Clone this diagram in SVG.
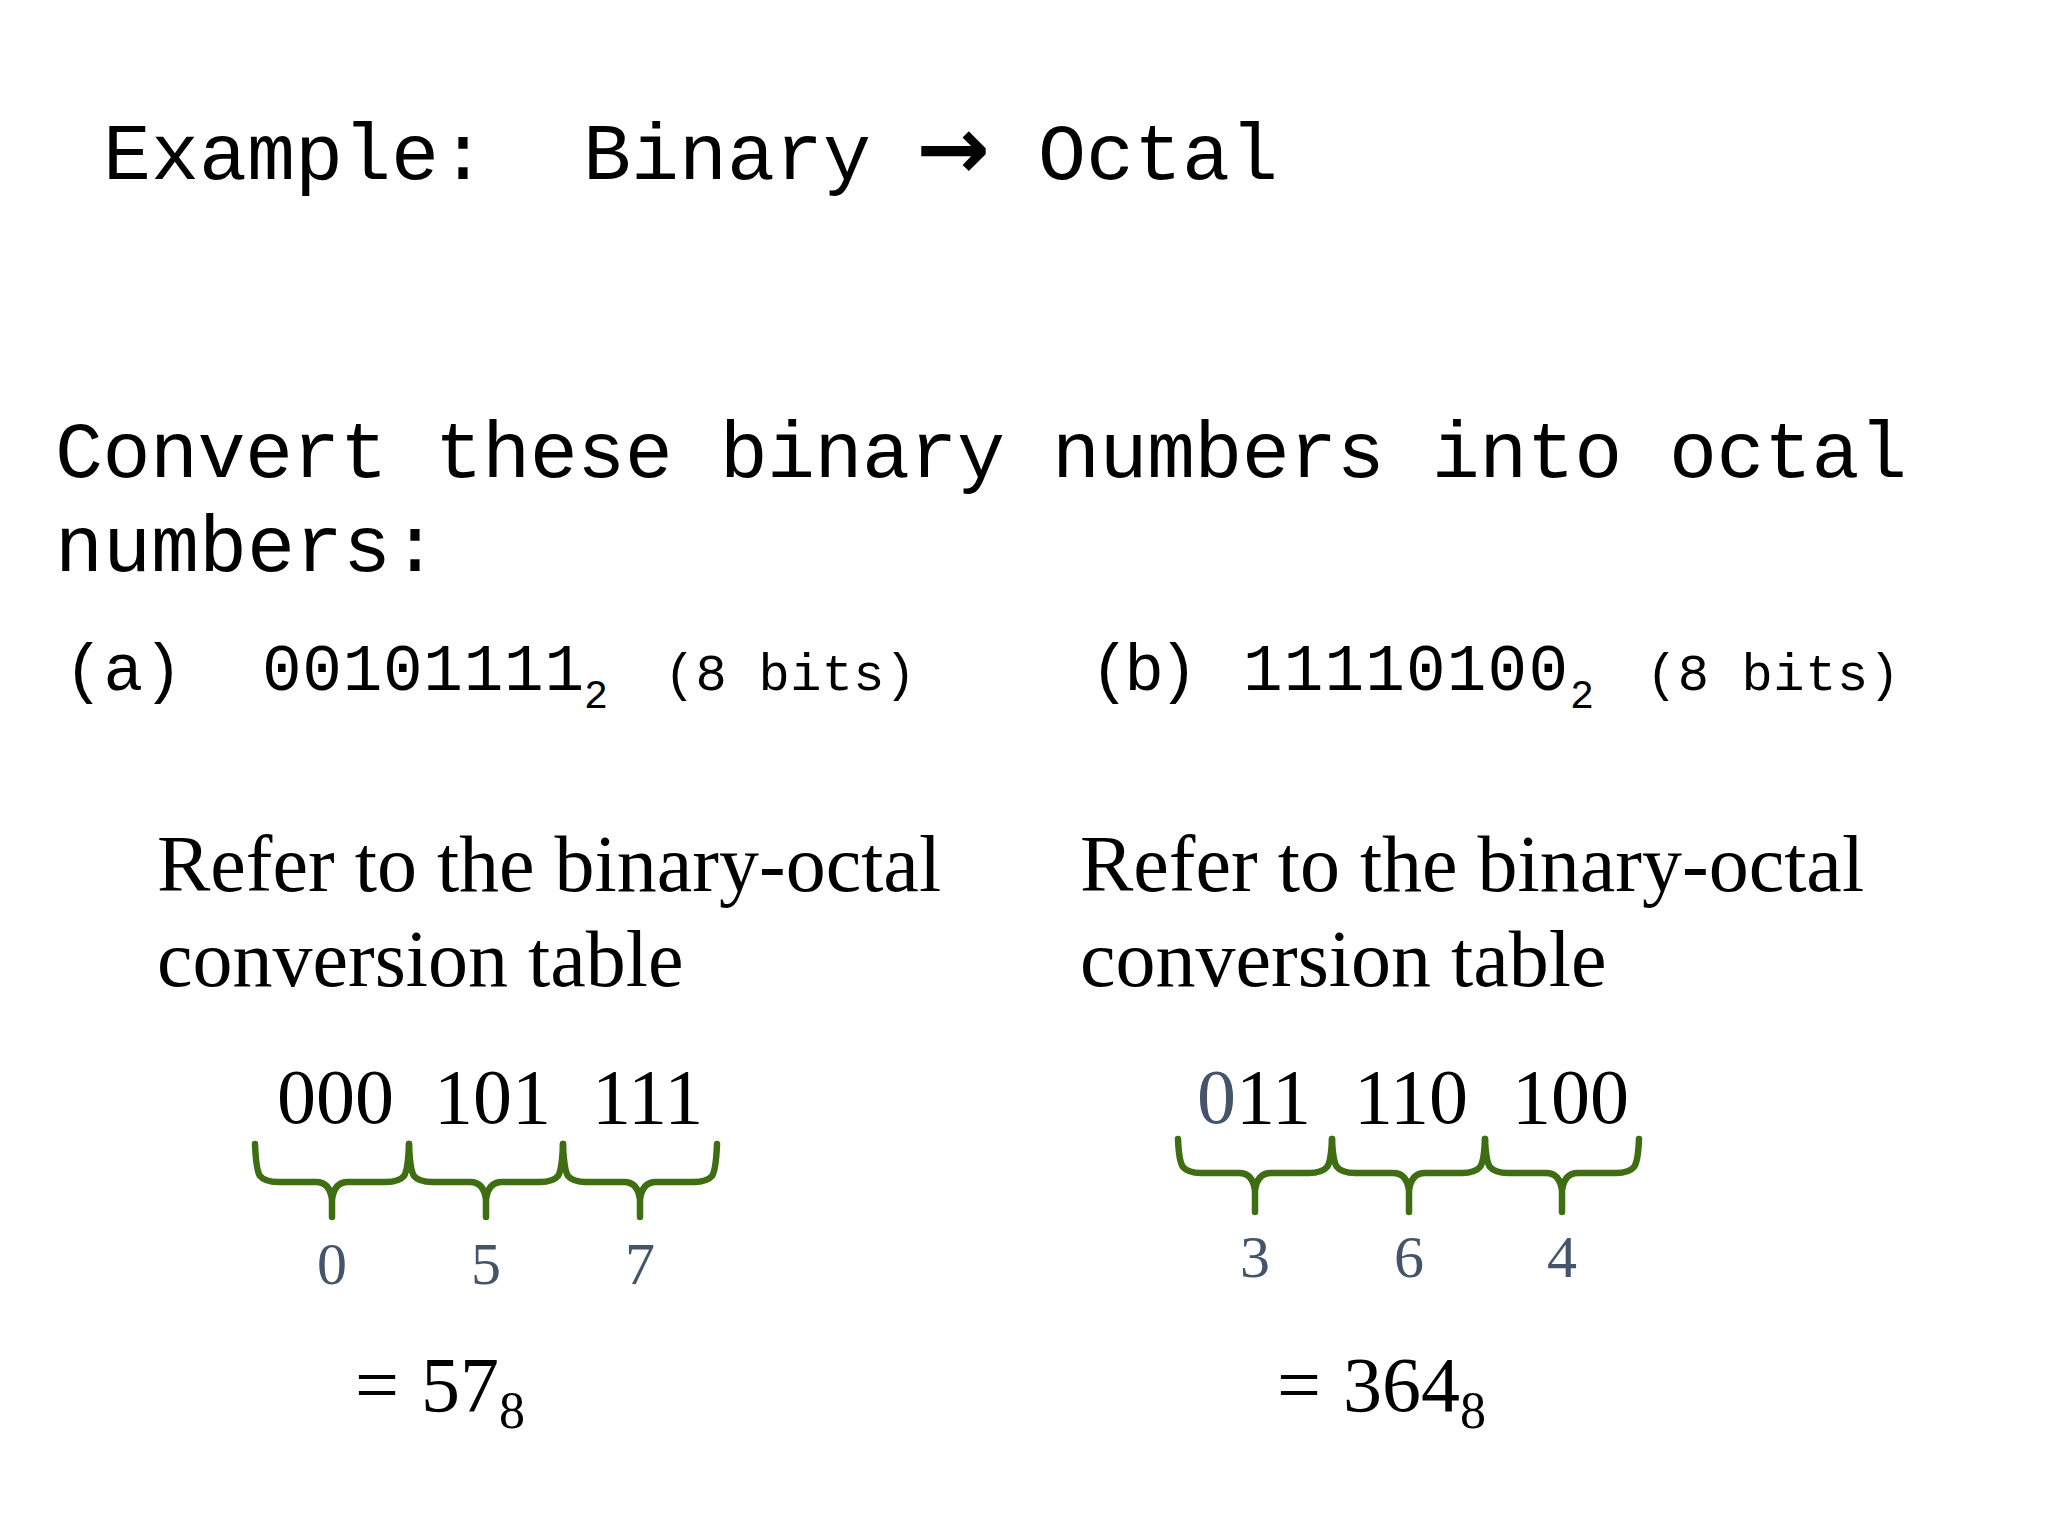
<svg xmlns="http://www.w3.org/2000/svg" width="2048" height="1536" viewBox="0 0 2048 1536">
<style>
.mono{font-family:"Liberation Mono","Courier New",monospace;fill:#000}
.serif{font-family:"Liberation Serif","Times New Roman",serif;fill:#000}
.slate{fill:#44546A}
.brace{fill:none;stroke:#3F6E12;stroke-width:6.5;stroke-linecap:round;stroke-linejoin:round}
</style>
<rect width="2048" height="1536" fill="#fff"/>
<g id="title">
<text class="mono" x="103" y="179" font-size="80">Example:</text>
<text class="mono" x="583" y="179" font-size="80">Binary</text>
<text x="953" y="179" font-size="88" font-family="DejaVu Sans, sans-serif" font-weight="bold" text-anchor="middle">→</text>
<text class="mono" x="1038" y="179" font-size="80">Octal</text>
</g>
<g id="question">
<text class="mono" x="55" y="477" font-size="80" textLength="1852" lengthAdjust="spacing">Convert these binary numbers into octal</text>
<text class="mono" x="55" y="571" font-size="80">numbers:</text>
</g>
<g id="part-a">
<text class="mono" x="64" y="690" font-size="66">(a)</text>
<text class="mono" x="262" y="690" font-size="66" textLength="322" lengthAdjust="spacing">00101111</text>
<text class="mono" x="584" y="708" font-size="40">2</text>
<text class="mono" x="664" y="690" font-size="52" textLength="252" lengthAdjust="spacing">(8 bits)</text>
</g>
<g id="part-b">
<text class="mono" x="1090" y="690" font-size="66" textLength="108" lengthAdjust="spacing">(b)</text>
<text class="mono" x="1243" y="690" font-size="66" textLength="325" lengthAdjust="spacing">11110100</text>
<text class="mono" x="1570" y="708" font-size="40">2</text>
<text class="mono" x="1646" y="690" font-size="52" textLength="254" lengthAdjust="spacing">(8 bits)</text>
</g>
<g id="refer-a">
<text class="serif" x="157" y="891" font-size="80">Refer to the binary-octal</text>
<text class="serif" x="157" y="986" font-size="80">conversion table</text>
</g>
<g id="refer-b">
<text class="serif" x="1080" y="891" font-size="80">Refer to the binary-octal</text>
<text class="serif" x="1080" y="986" font-size="80">conversion table</text>
</g>
<g id="groups-a">
<text class="serif" y="1123" font-size="78"><tspan x="277">000</tspan><tspan x="434">101</tspan><tspan x="592">111</tspan></text>
</g>
<g id="groups-b">
<text class="serif" y="1123" font-size="78"><tspan x="1197" class="slate">0</tspan><tspan>11</tspan><tspan x="1354">110</tspan><tspan x="1512">100</tspan></text>
</g>
<g id="connectors">
<path class="brace" d="M255 1144 Q256 1170 260 1176 Q265 1182 278 1182 L316 1182 Q330 1182 332 1200 L332 1217 M332 1200 Q334 1182 348 1182 L386 1182 Q399 1182 404 1176 Q408 1170 409 1144"/>
<path class="brace" d="M409 1144 Q410 1170 414 1176 Q419 1182 432 1182 L470 1182 Q484 1182 486 1200 L486 1217 M486 1200 Q488 1182 502 1182 L540 1182 Q553 1182 558 1176 Q562 1170 563 1144"/>
<path class="brace" d="M563 1144 Q564 1170 568 1176 Q573 1182 586 1182 L624 1182 Q638 1182 640 1200 L640 1217 M640 1200 Q642 1182 656 1182 L694 1182 Q707 1182 712 1176 Q716 1170 717 1144"/>
<path class="brace" d="M1178 1139 Q1179 1162 1183 1167 Q1188 1173 1201 1173 L1239 1173 Q1253 1173 1255 1191 L1255 1212 M1255 1191 Q1257 1173 1271 1173 L1309 1173 Q1322 1173 1327 1167 Q1331 1162 1332 1139"/>
<path class="brace" d="M1332 1139 Q1333 1162 1337 1167 Q1342 1173 1355 1173 L1393 1173 Q1407 1173 1409 1191 L1409 1212 M1409 1191 Q1411 1173 1425 1173 L1462 1173 Q1475 1173 1480 1167 Q1484 1162 1485 1139"/>
<path class="brace" d="M1485 1139 Q1486 1162 1490 1167 Q1495 1173 1508 1173 L1546 1173 Q1560 1173 1562 1191 L1562 1212 M1562 1191 Q1564 1173 1578 1173 L1616 1173 Q1629 1173 1634 1167 Q1638 1162 1639 1139"/>
</g>
<g id="digits-a">
<text class="serif slate" y="1284" font-size="60" text-anchor="middle"><tspan x="332">0</tspan><tspan x="486">5</tspan><tspan x="640">7</tspan></text>
</g>
<g id="digits-b">
<text class="serif slate" y="1277" font-size="60" text-anchor="middle"><tspan x="1255">3</tspan><tspan x="1409">6</tspan><tspan x="1562">4</tspan></text>
</g>
<g id="result-a">
<text class="serif" x="355" y="1411" font-size="78">= <tspan x="421">57</tspan><tspan font-size="52" dy="17">8</tspan></text>
</g>
<g id="result-b">
<text class="serif" x="1277" y="1411" font-size="78">= <tspan x="1343">364</tspan><tspan font-size="52" dy="17">8</tspan></text>
</g>
</svg>
